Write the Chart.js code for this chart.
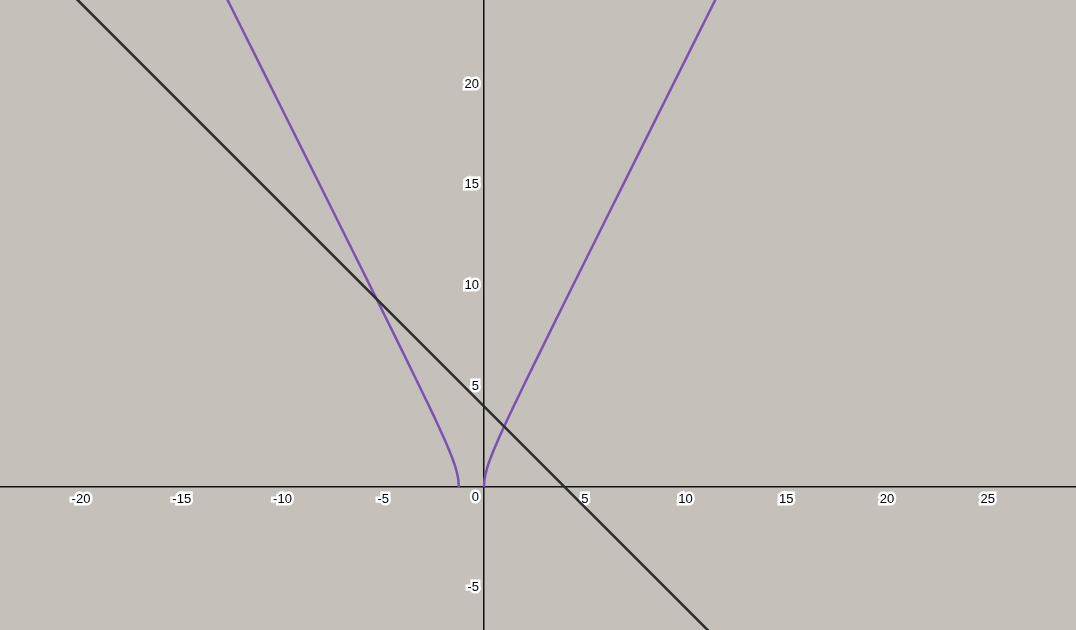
<!DOCTYPE html>
<html>
<head>
<meta charset="utf-8">
<script src="https://cdn.jsdelivr.net/npm/chart.js@4"></script>
<style>
  html, body { margin: 0; padding: 0; background: #c5c1ba; }
  #wrap { width: 1076px; height: 630px; }
</style>
</head>
<body>
<div id="wrap"><canvas id="myChart" width="1076" height="630"></canvas></div>
<script>
// Limites dos eixos
const xMin = -24.02, xMax = 29.38;
const yMin = -7.1, yMax = 24.17;

// Marcas dos eixos
const xTicks = [-20, -15, -10, -5, 5, 10, 15, 20, 25];
const xTickLabels = ['-20', '-15', '-10', '-5', '5', '10', '15', '20', '25'];
const yTicks = [-5, 0, 5, 10, 15, 20];
const yTickLabels = ['-5', ['', '0'], '5', '10', '15', '20'];

// Reta
const lineX = [-21, 12];
const lineY = [25, -8];

// Curva - ramo direito
const rightX = [0, 0.02, 0.05, 0.1, 0.2, 0.35, 0.5, 0.75, 1, 1.5, 2, 3, 4, 5, 6, 8, 10, 11.6];
const rightY = [0, 0.32, 0.51, 0.73, 1.08, 1.5, 1.87, 2.45, 3, 4.06, 5.1, 7.14, 9.17, 11.18, 13.19, 17.2, 21.21, 24.42];

// Curva - ramo esquerdo
const leftX = [-1.25, -1.27, -1.3, -1.35, -1.45, -1.6, -1.75, -2, -2.5, -3, -4, -5, -6, -8, -10, -12, -13];
const leftY = [0, 0.32, 0.51, 0.73, 1.08, 1.5, 1.87, 2.45, 3.54, 4.58, 6.63, 8.66, 10.68, 14.7, 18.71, 22.72, 24.72];

function pts(xs, ys) {
    return xs.map((x, i) => ({ x: x, y: ys[i] }));
}

const purple = '#7a52b3';
const dark = '#2b2b2b';

const data = {
    datasets: [
        { data: pts(lineX, lineY), borderColor: dark, borderWidth: 2.5, tension: 0 },
        { data: pts(rightX, rightY), borderColor: purple, borderWidth: 2.5, tension: 0.2 },
        { data: pts(leftX, leftY), borderColor: purple, borderWidth: 2.5, tension: 0.2 }
    ]
};

function noPadding(s) {
    s.paddingLeft = 0; s.paddingRight = 0; s.paddingTop = 0; s.paddingBottom = 0;
}

// rótulos do eixo y ficam colados no eixo: desloca um pouco para a esquerda
const shiftYLabels = {
    id: 'shiftYLabels',
    afterLayout(chart) {
        const s = chart.scales.y;
        if (s._shifted) return;
        const orig = s.drawLabels.bind(s);
        s.drawLabels = function (area) {
            chart.ctx.save();
            chart.ctx.translate(-5, 0);
            orig(area);
            chart.ctx.restore();
        };
        s._shifted = true;
    }
};

const fontFamily = 'Arial, "Liberation Sans", sans-serif';

const options = {
    responsive: false,
    animation: false,
    devicePixelRatio: 1,
    showLine: true,
    layout: { padding: 0 },
    elements: { point: { radius: 0, hoverRadius: 0 }, line: { fill: false } },
    plugins: { legend: { display: false }, tooltip: { enabled: false } },
    scales: {
        x: {
            type: 'linear',
            min: xMin, max: xMax,
            position: { y: 0 },
            grid: { display: false, drawTicks: false },
            border: { display: true, color: '#111', width: 1.5 },
            afterBuildTicks: s => { s.ticks = xTicks.map(v => ({ value: v })); },
            afterFit: noPadding,
            ticks: {
                callback: (v, i) => xTickLabels[i],
                color: '#000',
                font: { family: fontFamily, size: 13 },
                padding: 5,
                maxRotation: 0,
                textStrokeColor: '#fff',
                textStrokeWidth: 5
            }
        },
        y: {
            type: 'linear',
            min: yMin, max: yMax,
            position: { x: 0 },
            grid: { display: false, drawTicks: false },
            border: { display: true, color: '#111', width: 1.5 },
            afterBuildTicks: s => { s.ticks = yTicks.map(v => ({ value: v })); },
            afterFit: noPadding,
            ticks: {
                callback: (v, i) => yTickLabels[i],
                color: '#000',
                font: { family: fontFamily, size: 13, lineHeight: 1.6 },
                padding: 0,
                textStrokeColor: '#fff',
                textStrokeWidth: 5
            }
        }
    }
};

const ctx = document.getElementById('myChart').getContext('2d');
const myChart = new Chart(ctx, {
    type: 'scatter',
    data: data,
    options: options,
    plugins: [shiftYLabels]
});
</script>
</body>
</html>
